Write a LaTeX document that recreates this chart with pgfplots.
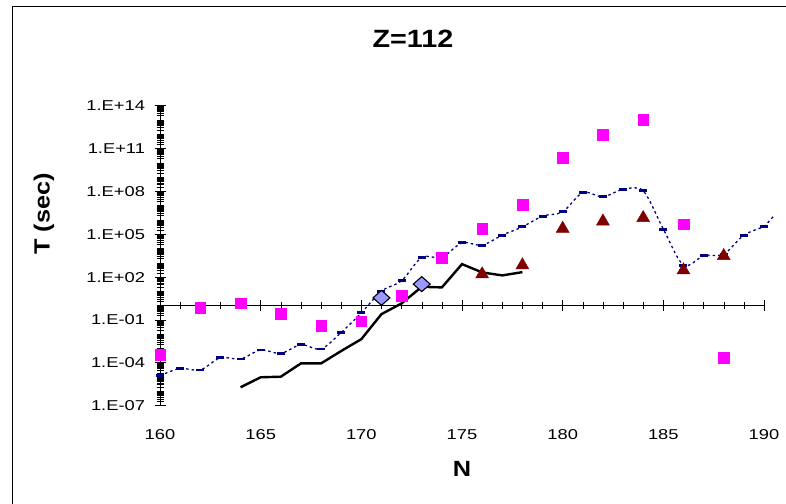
\documentclass[border=0pt]{standalone}
\usepackage{fontspec}
\setmainfont{Liberation Sans}[FakeStretch=1.28]
\newfontfamily\labfont{Liberation Sans}[FakeStretch=1.15]
\usepackage{pgfplots}
\pgfplotsset{compat=1.18}
\definecolor{mag}{HTML}{FF00FF}
\definecolor{dred}{HTML}{800000}
\definecolor{navy}{HTML}{000080}
\definecolor{lav}{HTML}{9999FF}
\def\minorlist{1e-7}
\foreach \e in {-7,...,13}{\foreach \k in {2,...,10}{\xdef\minorlist{\minorlist,\k e\e}}}
\begin{document}
\begin{tikzpicture}
\useasboundingbox (0,0) rectangle (786bp,504bp);
\draw[line width=1bp] (12bp,0) |- (786bp,497bp);
\begin{axis}[
  at={(160bp,98.3bp)}, anchor=south west,
  scale only axis, width=604bp, height=300bp,
  xmin=160, xmax=190, ymode=log, ymin=1e-7, ymax=1e14,
  axis x line*=middle, axis y line*=left,
  hide obscured x ticks=false, hide obscured y ticks=false,
  clip=false,
  xtick={160,165,...,190}, minor xtick={160,...,190},
  ytick={1e-7,1e-4,1e-1,1e2,1e5,1e8,1e11,1e14},
  yticklabels={1.E-07,1.E-04,1.E-01,1.E+02,1.E+05,1.E+08,1.E+11,1.E+14},
  minor ytick/.expand once=\minorlist,
  tick align=center, major tick length=11bp, minor tick length=7bp,
  every major tick/.style={black, line width=0.8bp},
  every minor tick/.style={black, line width=0.45bp},
  axis line style={black, line width=0.9bp},
  /pgf/number format/assume math mode=true,
  tick label style={font=\fontsize{14.3bp}{16bp}\selectfont},
  xticklabel style={anchor=center, yshift=-123.4bp},
  yticklabel style={anchor=east, xshift=-6bp},
]
\addplot[navy, line width=1.3bp, dash pattern=on 2.5bp off 3bp, smooth, mark=-, mark size=4bp, mark options={solid, line width=2.8bp}] table {
160 1.26e-5
161 4.07e-5
162 3.16e-5
163 2.29e-4
164 1.86e-4
165 7.94e-4
166 4.57e-4
167 1.86e-3
168 9.33e-4
169 1.35e-2
170 0.316
171 10.5
172 56.2
173 2.40e3
174 2.40e3
175 2.51e4
176 1.74e4
177 8.71e4
178 3.31e5
179 1.86e6
180 3.72e6
181 8.32e7
182 4.17e7
183 1.41e8
184 1.10e8
185 2.29e5
186 692
187 3.09e3
188 4.07e3
189 8.71e4
190 3.31e5
};
\addplot[navy, line width=1.3bp, dash pattern=on 2.5bp off 3bp] table {
190 3.31e5
190.5 2.0e6
};
\addplot[black, line width=2.4bp, no markers] table {
164 1.95e-6
165 9.77e-6
166 1.07e-5
167 9.12e-5
168 9.12e-5
169 6.76e-4
170 4.57e-3
171 0.257
172 1.45
173 20.9
174 19.1
175 813
176 214
177 132
178 224
};
\addplot[only marks, mark=square*, mark size=5.3bp, mag, mark options={draw=mag, fill=mag}] table {
160 3.55e-4
162 0.708
164 1.45
166 0.288
168 0.0398
170 0.0832
172 4.90
174 2.40e3
176 2.40e5
178 1.20e7
180 2.34e10
182 8.91e11
184 1.07e13
186 5.13e5
188 2.19e-4
};
\addplot[only marks, mark=triangle*, mark size=7.5bp, mark options={draw=dred, fill=dred, yshift=-1.8bp}] table {
176 214
178 912
180 3.31e5
182 1.07e6
184 1.86e6
186 407
188 4.07e3
};
\addplot[only marks, mark=diamond*, mark size=7.5bp, mark options={draw=black, fill=lav, line width=1.1bp, xscale=1.5}] table {
171 3.55
173 32.4
};
\end{axis}
\node[font=\labfont\bfseries\fontsize{25bp}{28bp}\selectfont] at (413bp,465.5bp) {Z=112};
\node[font=\labfont\bfseries\fontsize{22bp}{26bp}\selectfont] at (462bp,35bp) {N};
\node[rotate=90, font=\labfont\bfseries\fontsize{22bp}{26bp}\selectfont] at (44bp,290bp) {T (sec)};
\end{tikzpicture}
\end{document}
